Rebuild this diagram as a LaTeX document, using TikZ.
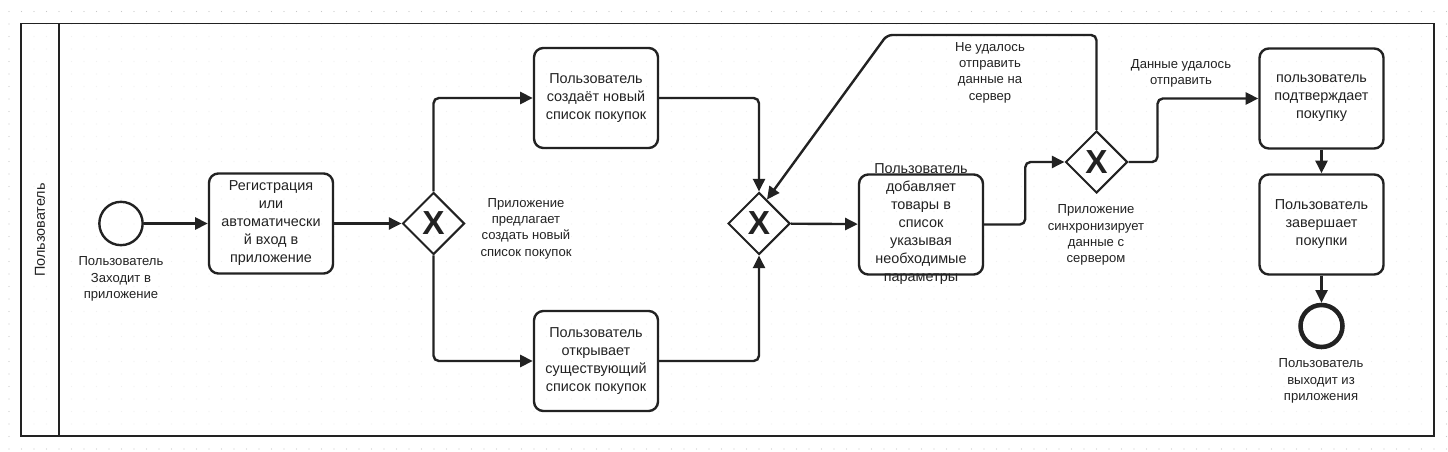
\documentclass[tikz,border=0pt]{standalone}
\usepackage{fontspec}
\setmainfont{Liberation Sans}
\usepackage{tikz}
\usetikzlibrary{shapes.geometric,arrows.meta,calc}

\definecolor{ink}{HTML}{222222}
\definecolor{gridcol}{HTML}{C8C8C8}
\newcommand{\tasksize}{\fontsize{10.8}{13.5}\selectfont}
\newcommand{\labsize}{\fontsize{9.8}{12.2}\selectfont}

\begin{document}
\begin{tikzpicture}[x=0.75pt,y=-0.75pt,
	task/.style={draw=ink, text=ink, rounded corners=7pt, line width=1.8pt, minimum width=93pt, minimum height=75pt, align=center, font=\tasksize},
	gate/.style={draw=ink, text=ink, diamond, line width=1.5pt, minimum size=46.5pt, inner sep=0pt, font=\fontsize{25}{25}\selectfont\bfseries},
	startev/.style={circle, draw=ink, line width=1.8pt, minimum size=32.5pt},
	endev/.style={circle, draw=ink, line width=3.4pt, minimum size=31.5pt},
	lab/.style={align=center, text=ink, font=\labsize},
	flow/.style={draw=ink, line width=1.8pt, rounded corners=4pt, -{Triangle[length=9.5pt,width=9pt]}}]
\useasboundingbox (0,0) rectangle (1448,452);
% dotted grid
\foreach \x in {9,21.5,...,1447}
	\foreach \y in {11.5,24,...,451}
		\fill[gridcol] (\x,\y) circle (0.45pt);
% pool and lane
\filldraw[draw=ink, fill=white, fill opacity=0.75, draw opacity=1, line width=1.4pt] (21,23.5) rectangle (1434,436);
\draw[ink, line width=1.4pt] (59,23.5) -- (59,436);
\node [rotate=90, text=ink, font=\tasksize] (lane) at (40,230) {Пользователь};

\node [startev] (start) at (121,223.5) {};
\node [lab] (startlab) at (121,279) {Пользователь\\Заходит в\\приложение};
\node [task] (reg) at (271,223.5) {Регистрация\\или\\автоматическ\smash{и}\\й вход в\\приложение};
\node [gate] (g1) at (433.5,223.5) {X};
\node [lab] (g1lab) at (526,228.5) {Приложение\\предлагает\\создать новый\\список покупок};
\node [task] (newlist) at (596,98) {Пользователь\\создаёт новый\\список покупок};
\node [task] (oldlist) at (596,361) {Пользователь\\открывает\\существующий\\список покупок};
\node [gate] (g2) at (759,223.5) {X};
\node [task] (add) at (921,224.5) {};
\node [text=ink, align=center, font=\tasksize] (addtxt) at (add) {Пользователь\\добавляет\\товары в\\список\\указывая\\необходимые\\параметры};
\node [gate] (g3) at (1096.5,162) {X};
\node [lab] (g3lab) at (1096,235) {Приложение\\синхронизирует\\данные с\\сервером};
\node [lab] (faillab) at (990,72.5) {Не удалось\\отправить\\данные на\\сервер};
\node [lab] (oklab) at (1181,73) {Данные удалось\\отправить};
\node [task] (confirm) at (1321.5,98.5) {пользователь\\подтверждает\\покупку};
\node [task] (finish) at (1321.5,224.5) {Пользователь\\завершает\\покупки};
\node [endev] (stop) at (1321.5,326) {};
\node [lab] (stoplab) at (1321,381) {Пользователь\\выходит из\\приложения};

\coordinate (loop) at (887,35);
\coordinate (g2in) at ($(g2.north)!0.25!(g2.east)$);

\draw [flow] (start) -- (reg);
\draw [flow] (reg) -- (g1);
\draw [flow] (g1.north) |- (newlist.west);
\draw [flow] (g1.south) |- (oldlist.west);
\draw [flow] (newlist.east) -| (g2.north);
\draw [flow] (oldlist.east) -| (g2.south);
\draw [flow] (g2) -- (add);
\draw [flow] (add.east) -- ++(41,0) |- (g3.west);
\draw [flow] (g3.north) |- (loop) -- (g2in);
\draw [flow] (g3.east) -- ++(29,0) |- (confirm.west);
\draw [flow] (confirm) -- (finish);
\draw [flow] (finish) -- (stop);
\end{tikzpicture}
\end{document}
